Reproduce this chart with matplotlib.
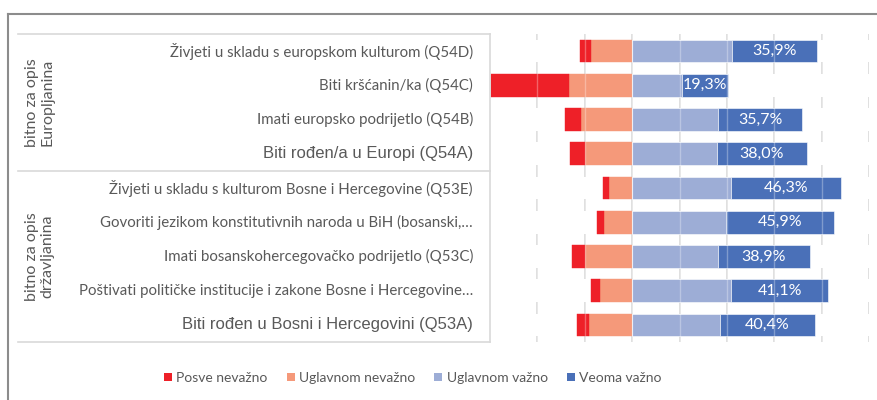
import matplotlib
matplotlib.use("Agg")
import matplotlib.pyplot as plt
from matplotlib.lines import Line2D
import numpy as np

categories = [
    "Živjeti u skladu s europskom kulturom (Q54D)",
    "Biti kršćanin/ka (Q54C)",
    "Imati europsko podrijetlo (Q54B)",
    "Biti rođen/a u Europi (Q54A)",
    "Živjeti u skladu s kulturom Bosne i Hercegovine (Q53E)",
    "Govoriti jezikom konstitutivnih naroda u BiH (bosanski,…",
    "Imati bosanskohercegovačko podrijetlo (Q53C)",
    "Poštivati političke institucije i zakone Bosne i Hercegovine…",
    "Biti rođen u Bosni i Hercegovini (Q53A)",
]
arial_like = {3, 8}
groups = ["bitno za opis\nEuropljanina", "bitno za opis\ndržavljanina"]
group_rows = [(0, 3), (4, 8)]

posve_nevazno = [4.9, 33.0, 6.9, 6.5, 2.4, 3.0, 5.6, 4.1, 5.1]
uglavnom_nevazno = [17.2, 26.6, 21.4, 19.8, 9.7, 11.8, 19.9, 13.4, 18.2]
uglavnom_vazno = [42.1, 21.0, 36.2, 35.8, 41.9, 39.5, 36.1, 41.8, 36.9]
veoma_vazno = [35.9, 19.3, 35.7, 38.0, 46.3, 45.9, 38.9, 41.1, 40.4]
series_names = ["Posve nevažno", "Uglavnom nevažno", "Uglavnom važno", "Veoma važno"]
colors = ["#EE2028", "#F5997A", "#9DADD6", "#4A70B8"]
xticks = [-60, -40, -20, 0, 20, 40, 60, 80, 100]

W, H = 878, 400
fig = plt.figure(figsize=(W / 100, H / 100), dpi=100)
ax = fig.add_axes([490 / W, 1 - 342 / H, (869 - 490) / W, (342 - 34) / H])

y = np.arange(len(categories))
pn = np.array(posve_nevazno)
un = np.array(uglavnom_nevazno)
uv = np.array(uglavnom_vazno)
vv = np.array(veoma_vazno)
bh = 0.66
n = len(categories)

# gridlines (dashed pieces between bars)
for xv in xticks[1:]:
    for i in range(n + 1):
        y0 = i - 0.5
        lo = y0 - (0.5 - bh / 2) if i > 0 else y0
        hi = y0 + (0.5 - bh / 2) if i < n else y0
        ax.plot([xv, xv], [lo, hi], color="#d9d9d9", lw=1.2, zorder=0, solid_capstyle="butt")

ax.barh(y, -un, left=0, height=bh, color=colors[1], edgecolor=colors[1], linewidth=0.3, zorder=2)
ax.barh(y, -pn, left=-un, height=bh, color=colors[0], edgecolor=colors[0], linewidth=0.3, zorder=2)
ax.barh(y, uv, left=0, height=bh, color=colors[2], edgecolor="white", linewidth=0.4, zorder=2)
bc = ax.barh(y, vv, left=uv, height=bh, color=colors[3], edgecolor="white", linewidth=0.4, zorder=2)
ax.bar_label(bc, labels=[f"{v:.1f}%".replace(".", ",") for v in vv], label_type="center",
             color="white", fontsize=11.5, family="Lato")

# faint gridlines over bars
for xv in xticks[1:]:
    ax.axvline(xv, color="white", lw=1.0, alpha=0.3, zorder=3)

ax.set_xlim(-60, 100)
ax.set_ylim(n - 0.5, -0.5)
ax.set_xticks([])
ax.set_yticks([])
for i, c in enumerate(categories):
    if i in arial_like:
        fam, fs = "Liberation Sans", 12
    else:
        fam, fs = "Lato", 10.8
    ax.text((473 - 490) / (869 - 490), i, c, transform=ax.get_yaxis_transform(),
            ha="right", va="center", color="#595959", family=fam, fontsize=fs)
for s in ["top", "right", "bottom"]:
    ax.spines[s].set_visible(False)
ax.spines["left"].set_color("#d9d9d9")
ax.spines["left"].set_linewidth(1.2)

# table lines for category groups
for yp in [34, 171, 342]:
    fig.add_artist(Line2D([18 / W, 490 / W], [1 - yp / H, 1 - yp / H], color="#d9d9d9", lw=1.2))

# group labels
for g, (a, b) in zip(groups, group_rows):
    yc = (a + b) / 2
    yfig = 1 - (34 + (yc + 0.5) * (342 - 34) / n) / H
    fig.text(40 / W, yfig, g, rotation=90, ha="center", va="center", multialignment="center",
             color="#595959", fontsize=11.5, family="Lato", linespacing=1.15)

# outer frame
fig.add_artist(Line2D([8 / W, 1], [1 - 14 / H, 1 - 14 / H], color="#8c8c8c", lw=1.5))
fig.add_artist(Line2D([8 / W, 8 / W], [0, 1 - 14 / H], color="#8c8c8c", lw=1.5))

handles = [Line2D([], [], marker="s", linestyle="none", markersize=5.2, color=c, markeredgewidth=0)
           for c in colors]
leg = fig.legend(handles, series_names, loc="center",
                 bbox_to_anchor=(413 / W, 1 - 378 / H), ncol=4, frameon=False,
                 handlelength=0.5, handletextpad=0.35, columnspacing=1.4,
                 prop={"family": "Lato", "size": 10.0})
for t in leg.get_texts():
    t.set_color("#595959")

fig.savefig("out.png", dpi=100)
